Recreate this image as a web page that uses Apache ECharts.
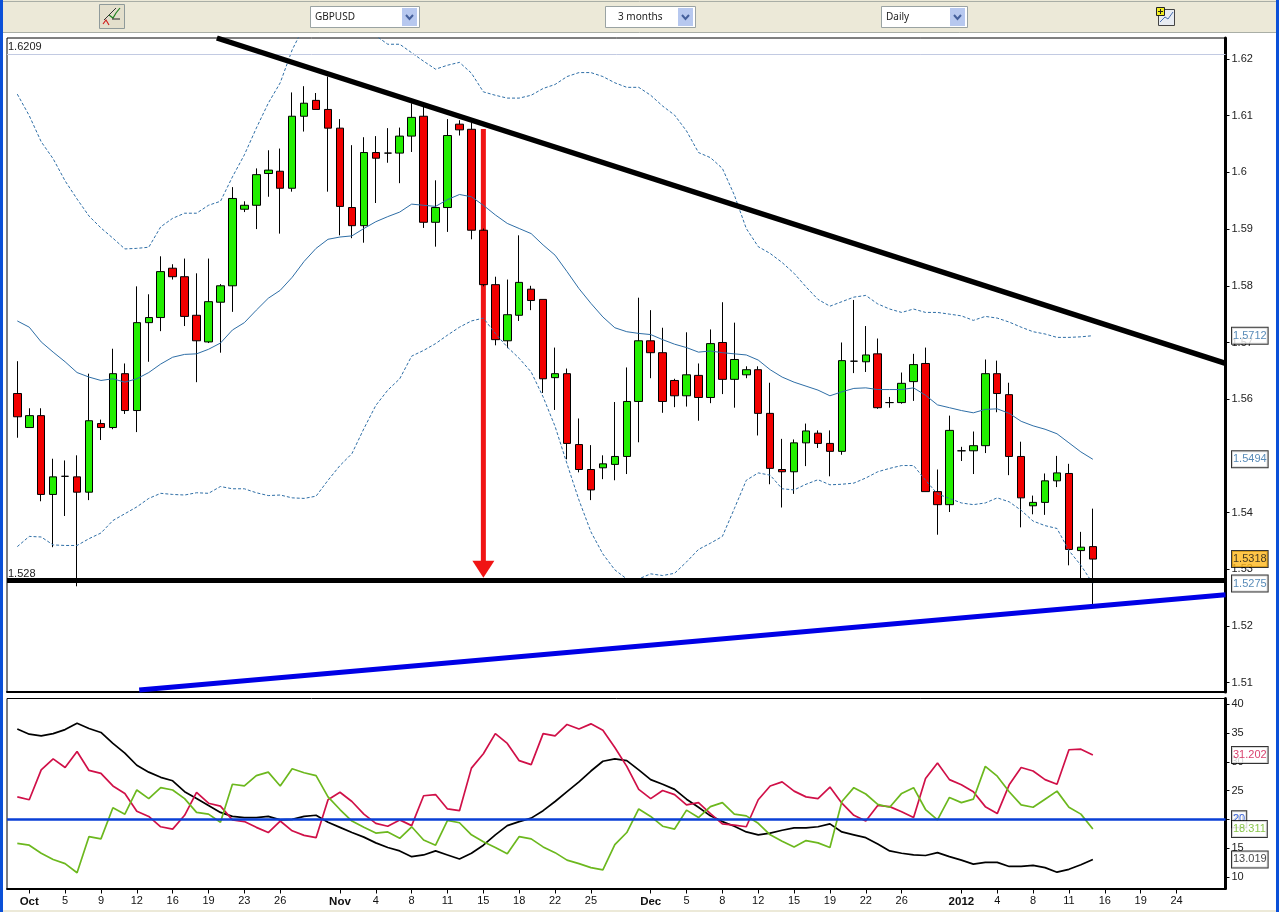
<!DOCTYPE html>
<html>
<head>
<meta charset="utf-8">
<title>GBPUSD daily</title>
<script src="https://cdn.jsdelivr.net/npm/echarts@6/dist/echarts.min.js"></script>
<style>
  html, body { margin: 0; padding: 0; background: #fff; }
  #chart { width: 1279px; height: 912px; }
</style>
</head>
<body>
<div id="chart"></div>
<script>
// Daily GBPUSD bars, one entry per trading session.
const opens = [
  1.5610,1.5550,1.5571,1.5432,1.5464,1.5463,1.5436,1.5557,1.5550,1.5645,
  1.5580,1.5735,1.5744,1.5831,1.5816,1.5748,1.5701,1.5771,1.5800,1.5935,
  1.5942,1.5998,1.6002,1.5972,1.6099,1.6127,1.6111,1.6078,1.5938,1.5906,
  1.6035,1.6034,1.6034,1.6064,1.6099,1.5912,1.5938,1.6085,1.6076,1.5898,
  1.5802,1.5703,1.5748,1.5794,1.5776,1.5638,1.5645,1.5520,1.5476,1.5479,
  1.5485,1.5499,1.5596,1.5703,1.5682,1.5633,1.5606,1.5642,1.5603,1.5700,
  1.5635,1.5643,1.5652,1.5575,1.5476,1.5472,1.5523,1.5540,1.5522,1.5508,
  1.5667,1.5666,1.5680,1.5594,1.5594,1.5631,1.5663,1.5437,1.5414,1.5509,
  1.5509,1.5518,1.5645,1.5608,1.5499,1.5412,1.5418,1.5456,1.5469,1.5333,
  1.5340
];
const closes = [
  1.5569,1.5571,1.5432,1.5463,1.5464,1.5436,1.5562,1.5550,1.5645,1.5580,
  1.5735,1.5744,1.5825,1.5816,1.5746,1.5703,1.5772,1.5800,1.5954,1.5942,
  1.5996,1.6004,1.5972,1.6099,1.6122,1.6111,1.6078,1.5940,1.5906,1.6035,
  1.6025,1.6034,1.6064,1.6097,1.5912,1.5938,1.6065,1.6075,1.5898,1.5802,
  1.5705,1.5749,1.5806,1.5774,1.5636,1.5645,1.5522,1.5476,1.5440,1.5486,
  1.5499,1.5596,1.5703,1.5682,1.5596,1.5606,1.5643,1.5603,1.5698,1.5635,
  1.5670,1.5652,1.5575,1.5478,1.5472,1.5523,1.5544,1.5522,1.5508,1.5668,
  1.5667,1.5678,1.5585,1.5594,1.5628,1.5661,1.5437,1.5414,1.5545,1.5509,
  1.5518,1.5645,1.5610,1.5499,1.5426,1.5418,1.5456,1.5470,1.5335,1.5339,
  1.5318
];
const lows = [
  1.5532,1.5550,1.5420,1.5339,1.5394,1.5270,1.5422,1.5528,1.5547,1.5574,
  1.5542,1.5666,1.5720,1.5811,1.5729,1.5630,1.5699,1.5682,1.5754,1.5930,
  1.5900,1.5957,1.5892,1.5966,1.6072,1.6111,1.5966,1.5889,1.5884,1.5876,
  1.5946,1.6017,1.5981,1.6036,1.5902,1.5869,1.5895,1.6065,1.5882,1.5799,
  1.5695,1.5690,1.5738,1.5757,1.5611,1.5581,1.5494,1.5471,1.5422,1.5459,
  1.5457,1.5468,1.5524,1.5637,1.5576,1.5586,1.5587,1.5562,1.5593,1.5609,
  1.5585,1.5637,1.5536,1.5450,1.5409,1.5433,1.5482,1.5514,1.5464,1.5502,
  1.5646,1.5648,1.5583,1.5585,1.5592,1.5597,1.5437,1.5361,1.5401,1.5491,
  1.5468,1.5505,1.5577,1.5466,1.5374,1.5397,1.5396,1.5445,1.5307,1.5282,
  1.5238
];
const highs = [
  1.5667,1.5584,1.5584,1.5495,1.5492,1.5501,1.5645,1.5564,1.5689,1.5663,
  1.5799,1.5785,1.5852,1.5838,1.5848,1.5822,1.5848,1.5803,1.5974,1.5949,
  1.6007,1.6039,1.6042,1.6141,1.6152,1.6140,1.6169,1.6094,1.6048,1.6062,
  1.6064,1.6078,1.6079,1.6122,1.6116,1.5986,1.6094,1.6092,1.6088,1.5901,
  1.5816,1.5811,1.5889,1.5800,1.5776,1.5691,1.5654,1.5566,1.5519,1.5501,
  1.5595,1.5656,1.5779,1.5757,1.5726,1.5636,1.5718,1.5663,1.5723,1.5771,
  1.5735,1.5658,1.5658,1.5629,1.5530,1.5529,1.5557,1.5545,1.5545,1.5700,
  1.5775,1.5729,1.5707,1.5604,1.5647,1.5680,1.5691,1.5476,1.5571,1.5516,
  1.5543,1.5670,1.5668,1.5629,1.5525,1.5430,1.5469,1.5500,1.5486,1.5366,
  1.5407
];

// Bollinger envelope around the closes.
const bandUpper = [
  1.6138,1.6100,1.6054,1.6024,1.5985,1.5953,1.5923,1.5902,1.5884,1.5865,
  1.5866,1.5868,1.5904,1.5919,1.5928,1.5928,1.5942,1.5949,1.5992,1.6031,
  1.6078,1.6122,1.6158,1.6216,1.6258,1.6279,1.6290,1.6290,1.6279,1.6262,
  1.6241,1.6226,1.6226,1.6211,1.6196,1.6182,1.6189,1.6194,1.6175,1.6142,
  1.6136,1.6131,1.6131,1.6136,1.6148,1.6155,1.6169,1.6176,1.6176,1.6169,
  1.6158,1.6150,1.6150,1.6136,1.6117,1.6101,1.6073,1.6035,1.6026,1.6007,
  1.5960,1.5901,1.5869,1.5857,1.5841,1.5822,1.5798,1.5776,1.5764,1.5772,
  1.5780,1.5783,1.5768,1.5759,1.5753,1.5759,1.5753,1.5753,1.5750,1.5747,
  1.5739,1.5746,1.5743,1.5736,1.5727,1.5719,1.5715,1.5709,1.5709,1.5710,
  1.5712
];
const bandMiddle = [
  1.5738,1.5727,1.5701,1.5683,1.5666,1.5647,1.5639,1.5633,1.5636,1.5630,
  1.5636,1.5647,1.5662,1.5674,1.5679,1.5680,1.5688,1.5699,1.5722,1.5735,
  1.5757,1.5778,1.5792,1.5815,1.5843,1.5866,1.5882,1.5886,1.5888,1.5901,
  1.5913,1.5922,1.5930,1.5944,1.5942,1.5940,1.5952,1.5961,1.5957,1.5942,
  1.5925,1.5910,1.5901,1.5892,1.5872,1.5854,1.5825,1.5795,1.5769,1.5745,
  1.5726,1.5719,1.5716,1.5714,1.5705,1.5697,1.5691,1.5683,1.5685,1.5682,
  1.5680,1.5678,1.5669,1.5652,1.5639,1.5630,1.5623,1.5616,1.5606,1.5613,
  1.5619,1.5620,1.5617,1.5617,1.5617,1.5620,1.5607,1.5590,1.5585,1.5580,
  1.5576,1.5582,1.5583,1.5575,1.5561,1.5553,1.5547,1.5539,1.5523,1.5507,
  1.5494
];
const bandLower = [
  1.5340,1.5358,1.5357,1.5343,1.5342,1.5342,1.5354,1.5364,1.5386,1.5398,
  1.5410,1.5425,1.5434,1.5432,1.5431,1.5435,1.5434,1.5446,1.5442,1.5442,
  1.5435,1.5430,1.5431,1.5426,1.5425,1.5429,1.5457,1.5483,1.5504,1.5548,
  1.5589,1.5616,1.5636,1.5676,1.5686,1.5698,1.5713,1.5727,1.5738,1.5743,
  1.5716,1.5692,1.5672,1.5648,1.5604,1.5552,1.5486,1.5422,1.5366,1.5327,
  1.5299,1.5283,1.5283,1.5292,1.5289,1.5293,1.5313,1.5335,1.5346,1.5358,
  1.5407,1.5457,1.5470,1.5466,1.5442,1.5440,1.5450,1.5458,1.5449,1.5450,
  1.5452,1.5461,1.5472,1.5478,1.5483,1.5483,1.5457,1.5433,1.5425,1.5417,
  1.5414,1.5417,1.5426,1.5419,1.5404,1.5385,1.5377,1.5372,1.5333,1.5307,
  1.5275
];

// Directional movement study for the lower panel.
const adx = [
  35.7,34.8,34.5,34.9,35.6,36.7,35.8,35.1,33.2,31.5,
  29.4,28.2,27.3,26.7,24.8,23.6,22.4,21.2,20.5,20.3,
  20.3,20.5,19.9,20.0,20.5,20.7,19.5,18.6,17.7,16.9,
  15.9,15.1,14.5,13.5,13.8,14.5,13.8,13.1,14.1,15.5,
  17.3,18.9,19.6,20.2,21.5,23.1,24.8,26.5,28.4,30.1,
  30.5,30.2,28.6,26.9,26.1,25.2,23.5,22.1,20.6,19.6,
  18.8,17.8,17.3,17.6,18.1,18.5,18.5,18.7,19.2,17.8,
  17.3,16.8,15.7,14.5,14.1,13.8,13.7,14.2,13.5,12.9,
  12.2,12.5,12.5,11.8,11.8,12.0,11.6,10.8,11.3,12.1,
  13.019
];
const diMinus = [
  23.9,23.4,28.6,30.5,29.0,31.8,28.5,28.0,25.8,24.5,
  21.4,20.5,18.7,18.3,20.7,24.7,22.8,22.3,19.9,19.6,
  18.6,17.7,19.7,18.0,17.2,16.8,23.4,24.7,23.1,20.9,
  19.3,18.8,19.9,18.9,24.1,24.3,21.8,21.5,28.9,31.4,
  34.9,33.2,30.2,29.5,34.9,34.5,36.5,35.7,36.6,35.5,
  32.5,29.2,25.2,23.6,25.0,24.3,22.5,22.9,21.0,19.2,
  19.0,18.7,23.4,25.8,26.5,24.9,23.9,23.6,25.6,22.8,
  20.7,19.7,22.4,22.2,21.3,20.3,27.1,29.8,26.9,26.0,
  24.8,22.2,21.0,26.0,29.0,28.4,26.9,26.1,32.1,32.2,
  31.202
];
const diPlus = [
  15.8,15.5,14.1,13.0,12.3,10.7,17.0,16.6,22.0,20.9,
  25.1,23.6,25.5,25.1,23.6,21.2,20.9,19.5,26.1,25.8,
  27.6,28.2,25.8,28.8,28.1,27.6,23.9,21.7,19.7,18.6,
  17.6,17.8,16.7,18.7,16.4,15.5,19.8,19.4,17.3,16.1,
  15.1,14.0,17.0,16.6,15.2,14.2,12.9,12.3,11.6,11.2,
  15.6,17.7,21.8,20.5,18.8,18.3,21.6,20.3,22.2,22.9,
  20.9,20.6,19.3,17.3,16.2,15.2,16.3,15.9,15.1,23.1,
  25.5,24.4,22.6,22.1,24.5,25.5,21.7,19.9,23.8,22.9,
  23.5,29.2,27.5,24.8,22.5,22.1,23.5,24.9,22.1,20.9,
  18.311
];

// Session numbers that carry a date on the time axis, with their labels.
const dateTickBars = [1,4,7,10,13,16,19,22,27,30,33,36,39,42,45,48,53,56,59,62,65,68,71,74,79,82,85,88,91,94,97];
const dateTickLabels = ['Oct','5','9','12','16','19','23','26','Nov','4','8','11','15','18','22','25','Dec','5','8','12','15','19','22','26','2012','4','8','11','16','19','24'];
const periodLabels = ['Oct','Nov','Dec','2012'];
const priceTicks = [1.51,1.52,1.53,1.54,1.56,1.57,1.58,1.59,1.6,1.61,1.62];
const studyTicks = [10,15,20,25,30,35,40];

// Hand-drawn chart annotations, as [session, price] end points.
const fallingTrend = [[16.7,1.6237],[101.1,1.5663]];
const risingTrend = [[10.2,1.5087],[101.1,1.5255]];
const projectionArrow = [[39,1.60765],[39,1.53]];
const supportLevel = 1.528;
const periodHigh = 1.6209;
const studyLevel = 20;

const GREEN = '#22ee00', RED = '#f20000', BAND = '#2e6ea6';
const SANS = 'Liberation Sans';
const UI_FONT = 'Noto Sans';
const xMin = -0.862, xMax = 101.1;

const candles = opens.map((o, i) => [i, o, closes[i], lows[i], highs[i]]);
const indexed = values => values.map((v, i) => [i, v]);

function bandLine(name, values, dashed) {
  return {
    name, type: 'line', xAxisIndex: 0, yAxisIndex: 0, data: indexed(values),
    symbol: 'none', z: 4, animation: false, silent: true,
    lineStyle: { color: BAND, width: 1, type: dashed ? [3, 2] : 'solid' }
  };
}
function studyLine(name, values, color) {
  return {
    name, type: 'line', xAxisIndex: 1, yAxisIndex: 1, data: indexed(values),
    symbol: 'none', z: 3, animation: false, silent: true,
    lineStyle: { color, width: 1.7 }
  };
}
function drawnLine(name, points, color, width) {
  return {
    name, type: 'line', xAxisIndex: 0, yAxisIndex: 0, data: points,
    symbol: 'none', z: 5, animation: false, silent: true,
    lineStyle: { color, width, cap: 'butt' }
  };
}
function levelLine(name, level, text, color, width, z) {
  return {
    name, type: 'line', xAxisIndex: 0, yAxisIndex: 0, data: [], z, silent: true, animation: false,
    markLine: {
      symbol: 'none', silent: true, animation: false, precision: 4,
      lineStyle: { color, width, type: 'solid', cap: 'butt' },
      label: {
        show: true, position: 'insideStartTop', formatter: text, distance: 1,
        color: '#222', fontFamily: SANS, fontSize: 11, padding: [0, 0, 0, 0]
      },
      data: [{ yAxis: level }]
    }
  };
}
// Boxed last-value tag sitting just outside the right-hand axis.
function valueTag(value, panel, color, fill) {
  return {
    type: 'scatter', xAxisIndex: panel, yAxisIndex: panel, data: [[xMax, value]],
    symbolSize: 1, itemStyle: { color: 'transparent' }, clip: false, z: 8, silent: true, animation: false,
    label: {
      show: true, position: 'right', distance: 6, formatter: String(value),
      color, backgroundColor: fill, borderColor: '#000', borderWidth: 1,
      fontFamily: SANS, fontSize: 11, lineHeight: 13, padding: [2, 1, 1, 1]
    }
  };
}

// Window furniture: toolbar strip, selectors and frame edges.
function selector(x, w, text, textX) {
  const btnX = x + w - 17;
  return [
    { type: 'rect', shape: { x: x + 0.5, y: 6.5, width: w, height: 21 }, style: { fill: '#fff', stroke: '#9aa3a3' } },
    { type: 'rect', shape: { x: btnX, y: 8, width: 15, height: 18 }, style: { fill: '#b7c8ef' } },
    { type: 'polyline', shape: { points: [[btnX + 4, 15], [btnX + 7.5, 19], [btnX + 11, 15]] },
      style: { stroke: '#45609c', lineWidth: 2, fill: 'none' } },
    { type: 'text', x: textX, y: 17, style: { text, font: '10px "' + UI_FONT + '"', fill: '#222', textVerticalAlign: 'middle' } }
  ];
}
const frameGraphics = [
  { type: 'rect', shape: { x: 0, y: 0, width: 1279, height: 33 }, style: { fill: '#ece9d8' } },
  { type: 'line', shape: { x1: 0, y1: 1.5, x2: 1279, y2: 1.5 }, style: { stroke: '#a9aea6', lineWidth: 1 } },
  { type: 'line', shape: { x1: 0, y1: 32.5, x2: 1279, y2: 32.5 }, style: { stroke: '#a9aea6', lineWidth: 1 } },
  { type: 'rect', shape: { x: 0, y: 910, width: 1279, height: 2 }, style: { fill: '#ece9d8' } },
  { type: 'rect', shape: { x: 0, y: 0, width: 3, height: 912 }, style: { fill: '#0b50d8' } },
  { type: 'rect', shape: { x: 1276, y: 0, width: 3, height: 912 }, style: { fill: '#0b50d8' } },
  // drawing-tools button
  { type: 'rect', shape: { x: 99.5, y: 4.5, width: 25, height: 24 }, style: { fill: '#e3dfcc', stroke: '#8f9a9a' } },
  { type: 'polyline', shape: { points: [[103, 24], [106, 20], [109, 25]] }, style: { stroke: '#d02020', lineWidth: 1.2, fill: 'none' } },
  { type: 'polyline', shape: { points: [[109, 15], [113, 18], [116, 13], [120, 8]] }, style: { stroke: '#208020', lineWidth: 1.2, fill: 'none' } },
  { type: 'line', shape: { x1: 104, y1: 20, x2: 116, y2: 8 }, style: { stroke: '#333', lineWidth: 1 } },
  { type: 'line', shape: { x1: 112, y1: 19, x2: 120, y2: 19 }, style: { stroke: '#222', lineWidth: 1 } },
  // add-study button
  { type: 'rect', shape: { x: 1158.5, y: 9.5, width: 16, height: 16 }, style: { fill: '#e8ecf2', stroke: '#444' } },
  { type: 'polyline', shape: { points: [[1160, 22], [1165, 17], [1168, 19], [1173, 12]] }, style: { stroke: '#4a6fb0', lineWidth: 1, fill: 'none' } },
  { type: 'rect', shape: { x: 1156.5, y: 7.5, width: 8, height: 8 }, style: { fill: '#f2ee20', stroke: '#222' } },
  { type: 'line', shape: { x1: 1158, y1: 11.5, x2: 1163, y2: 11.5 }, style: { stroke: '#222', lineWidth: 1 } },
  { type: 'line', shape: { x1: 1160.5, y1: 9, x2: 1160.5, y2: 14 }, style: { stroke: '#222', lineWidth: 1 } },
  ...selector(310, 109, 'GBPUSD', 315),
  ...selector(605, 90, '3 months', 618),
  ...selector(881, 86, 'Daily', 886)
].map(el => Object.assign({ silent: true, z: 1 }, el));

const chart = echarts.init(document.getElementById('chart'), null, { width: 1279, height: 912 });
chart.setOption({
  animation: false,
  backgroundColor: '#fff',
  graphic: { elements: frameGraphics },
  grid: [
    { left: 7, top: 38, width: 1218.5, height: 654, show: true, borderColor: '#000', borderWidth: 1, backgroundColor: '#fff' },
    { left: 7, top: 698.5, width: 1218.5, height: 190, show: true, borderColor: '#000', borderWidth: 1, backgroundColor: '#fff' }
  ],
  xAxis: [
    {
      type: 'value', gridIndex: 0, min: xMin, max: xMax, splitLine: { show: false },
      axisLine: { show: true, onZero: false, lineStyle: { color: '#000', width: 2 } },
      axisTick: { show: false }, axisLabel: { show: false }
    },
    {
      type: 'value', gridIndex: 1, min: xMin, max: xMax, splitLine: { show: false },
      axisLine: { show: true, onZero: false, lineStyle: { color: '#000', width: 2 } },
      axisTick: { show: true, length: 5, customValues: dateTickBars, lineStyle: { color: '#000', width: 1 } },
      axisLabel: {
        show: true, customValues: dateTickBars, margin: 7, color: '#111', fontFamily: SANS, fontSize: 11,
        hideOverlap: false,
        formatter: v => {
          const text = dateTickLabels[dateTickBars.indexOf(v)];
          return periodLabels.includes(text) ? '{strong|' + text + '}' : text;
        },
        rich: { strong: { fontWeight: 'bold', fontFamily: SANS, fontSize: 11.5, color: '#111' } }
      }
    }
  ],
  yAxis: [
    {
      type: 'value', gridIndex: 0, position: 'right', min: 1.50836, max: 1.6237, splitLine: { show: false },
      axisLine: { show: true, onZero: false, lineStyle: { color: '#000', width: 3 } },
      axisTick: { show: true, length: 4, customValues: priceTicks, lineStyle: { color: '#000', width: 1 } },
      axisLabel: { show: true, customValues: priceTicks, margin: 6, color: '#222', fontFamily: SANS, fontSize: 11, hideOverlap: false, formatter: v => String(v) }
    },
    {
      type: 'value', gridIndex: 1, position: 'right', min: 7.965, max: 41.01, splitLine: { show: false },
      axisLine: { show: true, onZero: false, lineStyle: { color: '#000', width: 3 } },
      axisTick: { show: true, length: 4, customValues: studyTicks, lineStyle: { color: '#000', width: 1 } },
      axisLabel: { show: true, customValues: studyTicks, margin: 6, color: '#222', fontFamily: SANS, fontSize: 11, hideOverlap: false, formatter: v => String(v) }
    }
  ],
  series: [
    levelLine('Period high', periodHigh, String(periodHigh), '#c2cae2', 1, 1),
    {
      name: 'Projection', type: 'line', xAxisIndex: 0, yAxisIndex: 0, z: 1, silent: true, animation: false,
      showSymbol: true,
      data: [
        { value: projectionArrow[0], symbol: 'none' },
        { value: projectionArrow[1], symbol: 'triangle', symbolSize: [22, 17], symbolRotate: 180 }
      ],
      itemStyle: { color: '#f01414' },
      lineStyle: { color: '#f01414', width: 5, cap: 'butt' }
    },
    {
      name: 'GBPUSD', type: 'candlestick', xAxisIndex: 0, yAxisIndex: 0, data: candles,
      barWidth: 8, z: 2, silent: true, animation: false,
      itemStyle: { color: GREEN, color0: RED, borderColor: '#000', borderColor0: '#000', borderWidth: 1 }
    },
    bandLine('Upper band', bandUpper, true),
    bandLine('Middle band', bandMiddle, false),
    bandLine('Lower band', bandLower, true),
    levelLine('Support', supportLevel, String(supportLevel), '#000', 5, 5),
    drawnLine('Falling trend', fallingTrend, '#000', 5.5),
    drawnLine('Rising trend', risingTrend, '#0000e6', 5),
    studyLine('ADX', adx, '#000'),
    studyLine('DI-', diMinus, '#d01048'),
    studyLine('DI+', diPlus, '#6cb81e'),
    {
      name: 'Study level', type: 'line', xAxisIndex: 1, yAxisIndex: 1, data: [], z: 4, silent: true, animation: false,
      markLine: {
        symbol: 'none', silent: true, animation: false, label: { show: false },
        lineStyle: { color: '#0a3fd6', width: 2.5, type: 'solid' },
        data: [{ yAxis: studyLevel }]
      }
    },
    valueTag(bandUpper[bandUpper.length - 1], 0, BAND, '#fff'),
    valueTag(bandMiddle[bandMiddle.length - 1], 0, BAND, '#fff'),
    valueTag(closes[closes.length - 1], 0, '#111', '#ffb81c'),
    valueTag(bandLower[bandLower.length - 1], 0, BAND, '#fff'),
    valueTag(diMinus[diMinus.length - 1], 1, '#d01048', '#fff'),
    valueTag(studyLevel, 1, '#0a3fd6', '#fff'),
    valueTag(diPlus[diPlus.length - 1], 1, '#6cb81e', '#fff'),
    valueTag(adx[adx.length - 1], 1, '#111', '#fff')
  ]
});
</script>
</body>
</html>
